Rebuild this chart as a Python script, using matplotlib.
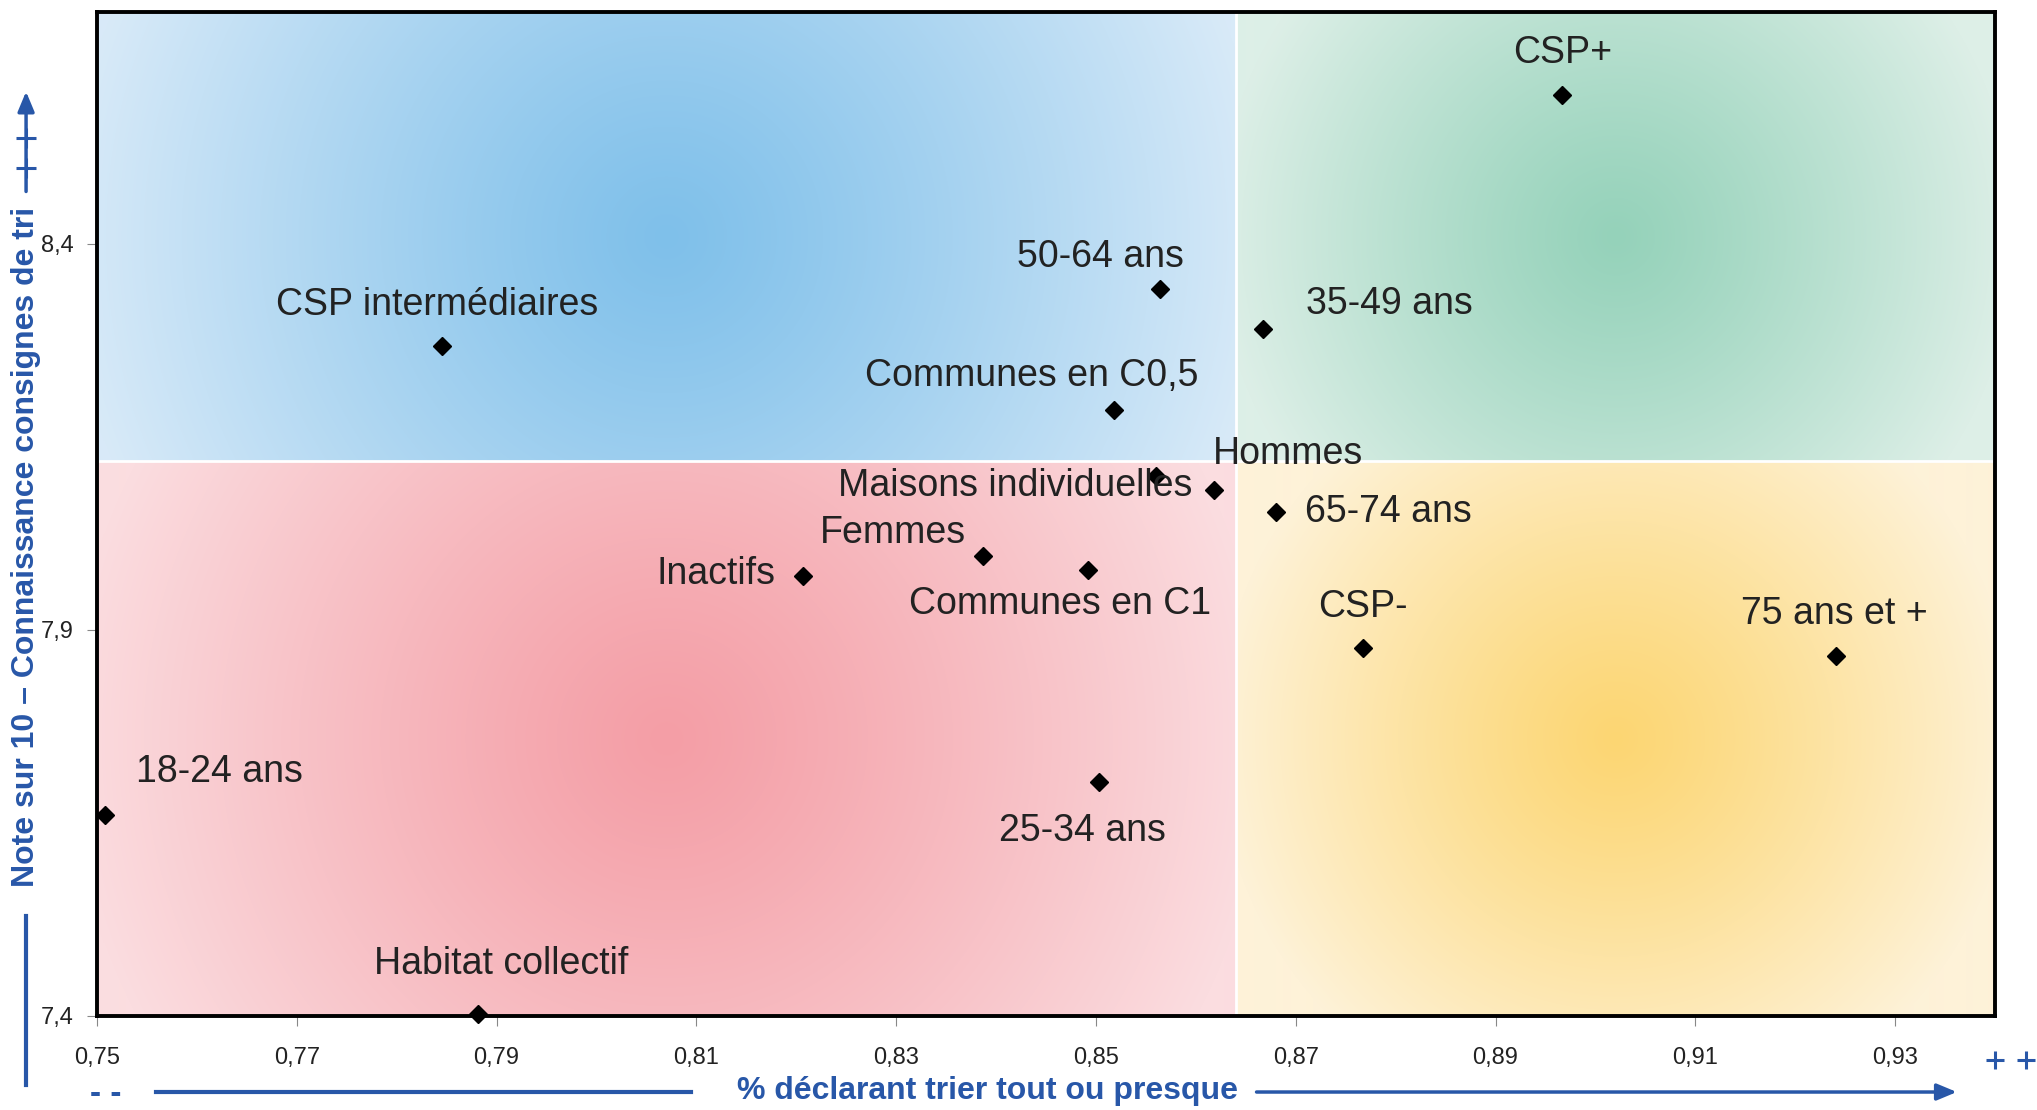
import numpy as np
import matplotlib.pyplot as plt
from matplotlib.colors import to_rgb

plt.rcParams['font.family'] = ['Liberation Sans', 'DejaVu Sans']

# data
labels = ['CSP+', '50-64 ans', '35-49 ans', 'CSP intermédiaires', 'Communes en C0,5',
          'Maisons individuelles', 'Hommes', '65-74 ans', 'Femmes', 'Inactifs',
          'Communes en C1', 'CSP-', '75 ans et +', '18-24 ans', '25-34 ans',
          'Habitat collectif']
pct_tri = [0.8967, 0.8564, 0.8667, 0.7845, 0.8518, 0.8560, 0.8618, 0.8680,
           0.8387, 0.8207, 0.8492, 0.8767, 0.9241, 0.7508, 0.8503, 0.7881]
note = [8.593, 8.341, 8.289, 8.267, 8.185, 8.099, 8.081, 8.052,
        7.995, 7.970, 7.978, 7.876, 7.866, 7.660, 7.703, 7.403]
x_ticks = [0.75, 0.77, 0.79, 0.81, 0.83, 0.85, 0.87, 0.89, 0.91, 0.93]
y_ticks = [7.4, 7.9, 8.4]
x_split, y_split = 0.864, 8.118
xmin, xmax, ymin, ymax = 0.75, 0.94, 7.4, 8.7

# label offsets (points) and alignment
offsets = {
    'CSP+': (0, 30, 'center'), '50-64 ans': (-43, 23, 'center'),
    '35-49 ans': (31, 18, 'left'), 'CSP intermédiaires': (-3, 30, 'center'),
    'Communes en C0,5': (-59, 24, 'center'), 'Maisons individuelles': (26, -7, 'right'),
    'Hommes': (-1, 26, 'left'), '65-74 ans': (21, 0, 'left'),
    'Femmes': (-65, 17, 'center'), 'Inactifs': (-20, 1, 'right'),
    'Communes en C1': (-20, -25, 'center'), 'CSP-': (0, 30, 'center'),
    '75 ans et +': (-1, 30, 'center'), '18-24 ans': (22, 31, 'left'),
    '25-34 ans': (-12, -35, 'center'), 'Habitat collectif': (17, 36, 'center'),
}

blue = '#2857a8'

fig = plt.figure(figsize=(20.37, 11.10), dpi=100)
ax = fig.add_axes([0.0476, 0.0847, 0.9318, 0.9045])

# radial gradient background for each quadrant
W, H = 1898, 1004
xd = (x_split - xmin) / (xmax - xmin) * W
yd = (ymax - y_split) / (ymax - ymin) * H
X, Y = np.meshgrid(np.arange(W) + 0.5, np.arange(H) + 0.5)
img = np.zeros((H, W, 3))
quads = [
    ((0, xd), (0, yd), '#7fc0ea', '#d8eaf8'),
    ((xd, W), (0, yd), '#95d2ba', '#ddefe7'),
    ((0, xd), (yd, H), '#f49ea6', '#fbdde0'),
    ((xd, W), (yd, H), '#fcd673', '#fef2d8'),
]
for (x0, x1), (y0, y1), c_in, c_out in quads:
    cx, cy = (x0 + x1) / 2, (y0 + y1) / 2
    half = (x1 - x0) / 2
    t = np.clip(np.hypot(X - cx, Y - cy) / (half * 1.05), 0, 1) ** 1.15
    mask = (X >= x0) & (X < x1) & (Y >= y0) & (Y < y1)
    ci, co = np.array(to_rgb(c_in)), np.array(to_rgb(c_out))
    col = ci[None, None, :] * (1 - t[..., None]) + co[None, None, :] * t[..., None]
    img[mask] = col[mask]
ax.imshow(img, extent=[xmin, xmax, ymin, ymax], aspect='auto', zorder=0,
          interpolation='bilinear')
ax.axvline(x_split, color='white', lw=2, zorder=1)
ax.axhline(y_split, color='white', lw=2, zorder=1)

ax.plot(pct_tri, note, 'D', color='black', ms=9, ls='none', zorder=3, clip_on=False)
for lab, x, y in zip(labels, pct_tri, note):
    dx, dy, ha = offsets[lab]
    ax.annotate(lab, (x, y), xytext=(dx, dy), textcoords='offset points',
                ha=ha, va='center', fontsize=27, color='#222222', zorder=4)

ax.set_xlim(xmin, xmax)
ax.set_ylim(ymin, ymax)
ax.set_xticks(x_ticks)
ax.set_xticklabels([f'{v:.2f}'.replace('.', ',') for v in x_ticks])
ax.set_yticks(y_ticks)
ax.set_yticklabels([f'{v:.1f}'.replace('.', ',') for v in y_ticks])
ax.tick_params(axis='x', length=7, color='#888888', labelsize=17, pad=15, labelcolor='#222222')
ax.tick_params(axis='y', length=7, color='#888888', labelsize=17, pad=10, labelcolor='#222222')
for s in ax.spines.values():
    s.set_linewidth(2.8)
    s.set_color('black')

# y axis title with arrow
fig.text(0.0128, 0.507, 'Note sur 10 – Connaissance consignes de tri', rotation=90,
         ha='center', va='center', fontsize=23, fontweight='bold', color=blue)
fig.add_artist(plt.Line2D([0.0128, 0.0128], [0.0225, 0.175], color=blue, lw=3))
ax.annotate('', xy=(0.0128, 0.92), xytext=(0.0128, 0.825), xycoords='figure fraction',
            arrowprops=dict(arrowstyle='-|>,head_length=1.2,head_width=0.5', color=blue, lw=2.5))
fig.add_artist(plt.Line2D([0.0128, 0.0128], [0.876, 0.849], ls='none', marker='+',
                          ms=14, mew=2.2, color=blue))

# x axis title with arrow
fig.text(0.4846, 0.0171, '% déclarant trier tout ou presque', ha='center', va='center',
         fontsize=23, fontweight='bold', color=blue)
fig.add_artist(plt.Line2D([0.0766, 0.339], [0.0162, 0.0162], color=blue, lw=3))
ax.annotate('', xy=(0.962, 0.0162), xytext=(0.6155, 0.0162), xycoords='figure fraction',
            arrowprops=dict(arrowstyle='-|>,head_length=1.2,head_width=0.5', color=blue, lw=2.5))
fig.text(0.052, 0.014, '- -', ha='center', va='center', fontsize=24, fontweight='bold', color=blue)
fig.add_artist(plt.Line2D([0.9795, 0.9947], [0.045, 0.045], ls='none', marker='+',
                          ms=13, mew=2.2, color=blue))

fig.savefig('out.png', dpi=100)
